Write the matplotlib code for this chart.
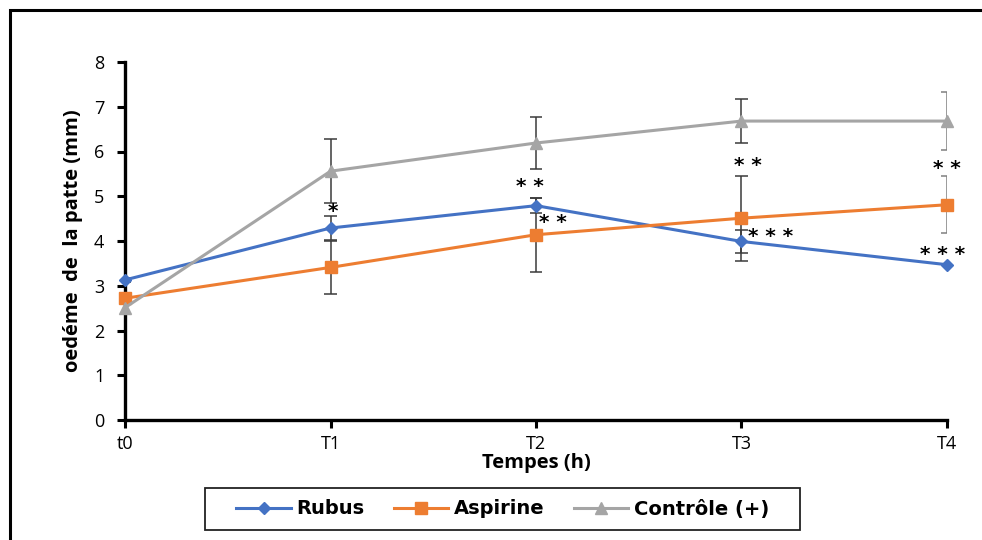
import matplotlib
matplotlib.use("Agg")
import matplotlib.pyplot as plt
from matplotlib.patches import Rectangle
from matplotlib.transforms import offset_copy

# ---- data ----
categories = ["t0", "T1", "T2", "T3", "T4"]
rubus = [3.13, 4.29, 4.79, 3.99, 3.47]
rubus_err = [0.05, 0.27, 0.17, 0.25, 0.0]
aspirine = [2.72, 3.41, 4.14, 4.51, 4.81]
aspirine_err = [0.10, 0.59, 0.83, 0.95, 0.64]
controle = [2.51, 5.56, 6.19, 6.68, 6.68]
controle_err = [0.15, 0.71, 0.57, 0.50, 0.65]
series_names = ["Rubus", "Aspirine", "Contrôle (+)"]
y_ticks = [0, 1, 2, 3, 4, 5, 6, 7, 8]
# significance marks
stars_x = [1.013, 1.97, 2.08, 3.03, 3.14, 4.0, 3.98]
stars_y = [4.75, 5.31, 4.50, 5.77, 4.19, 5.71, 3.79]
stars_txt = ["*", "**", "**", "**", "***", "**", "***"]

plt.rcParams['font.family'] = ['Open Sans', 'DejaVu Sans']

W, H = 982, 540
fig = plt.figure(figsize=(W / 100, H / 100), dpi=100)

# outer frame (runs off the right and bottom edges)
fig.patches.append(Rectangle((10 / W, -0.1), 1.2, (H - 10) / H + 0.1, transform=fig.transFigure,
                             fill=False, edgecolor='black', linewidth=2.2))

ax = fig.add_axes([125 / W, (H - 420) / H, (947 - 125) / W, (420 - 62) / H])
x = list(range(len(categories)))

colors = ["#4472C4", "#ED7D31", "#A5A5A5"]
markers = ["D", "s", "^"]
msizes = [6.5, 8, 8.5]
vals = [rubus, aspirine, controle]
errs = [rubus_err, aspirine_err, controle_err]
err_colors = ['#3a3a3a', '#3a3a3a', '#3a3a3a', '#3a3a3a', '#808080']

cap_half = 0.03  # data units
for v, e in zip(vals, errs):
    for xi, vi, ee, ec in zip(x, v, e, err_colors):
        if ee > 0:
            ax.vlines(xi, vi - ee, vi + ee, color=ec, linewidth=1.1, zorder=2)
            ax.hlines([vi - ee, vi + ee], xi - cap_half, xi + cap_half, color=ec,
                      linewidth=1.1, zorder=2)

for v, c, m, ms, name in zip(vals, colors, markers, msizes, series_names):
    ax.plot(x, v, color=c, marker=m, markersize=ms, linewidth=2.2, label=name,
            clip_on=False, zorder=3)

tr = offset_copy(ax.transData, fig=fig, x=0, y=-4, units='dots')
for sx, sy, st in zip(stars_x, stars_y, stars_txt):
    ax.text(sx, sy, " ".join(st), ha='center', va='center', fontsize=14.5, fontweight='bold',
            family=['DejaVu Sans'], color='black', zorder=4, transform=tr)

ax.set_xlim(0, 4)
ax.set_ylim(0, 8)
ax.set_xticks(x)
ax.set_xticklabels(categories)
ax.set_yticks(y_ticks)
for s in ['top', 'right']:
    ax.spines[s].set_visible(False)
for s in ['left', 'bottom']:
    ax.spines[s].set_linewidth(2.4)
    ax.spines[s].set_color('black')
ax.tick_params(axis='both', direction='out', length=6, width=2.2, labelsize=13, colors='black')
ax.tick_params(axis='y', pad=9)
ax.tick_params(axis='x', pad=5)

ax.set_xlabel("Tempes (h)", fontsize=14.5, fontweight='bold', labelpad=0)
ax.set_ylabel("oedéme  de  la patte (mm)", fontsize=14.5, fontweight='bold', labelpad=8)

leg = fig.legend(loc='center', bbox_to_anchor=(503 / W, 1 - 509 / H), ncol=3,
                 frameon=False, prop={'weight': 'bold', 'size': 14, 'family': 'DejaVu Sans'},
                 handlelength=2.8, columnspacing=1.5, handletextpad=0.3, borderpad=0.35)
# legend box (Excel-style wide padding)
fig.patches.append(Rectangle((205 / W, 1 - 530 / H), (800 - 205) / W, (530 - 488) / H,
                             transform=fig.transFigure, fill=False, edgecolor='#222222',
                             linewidth=1.3))

fig.savefig("out.png", dpi=100)
